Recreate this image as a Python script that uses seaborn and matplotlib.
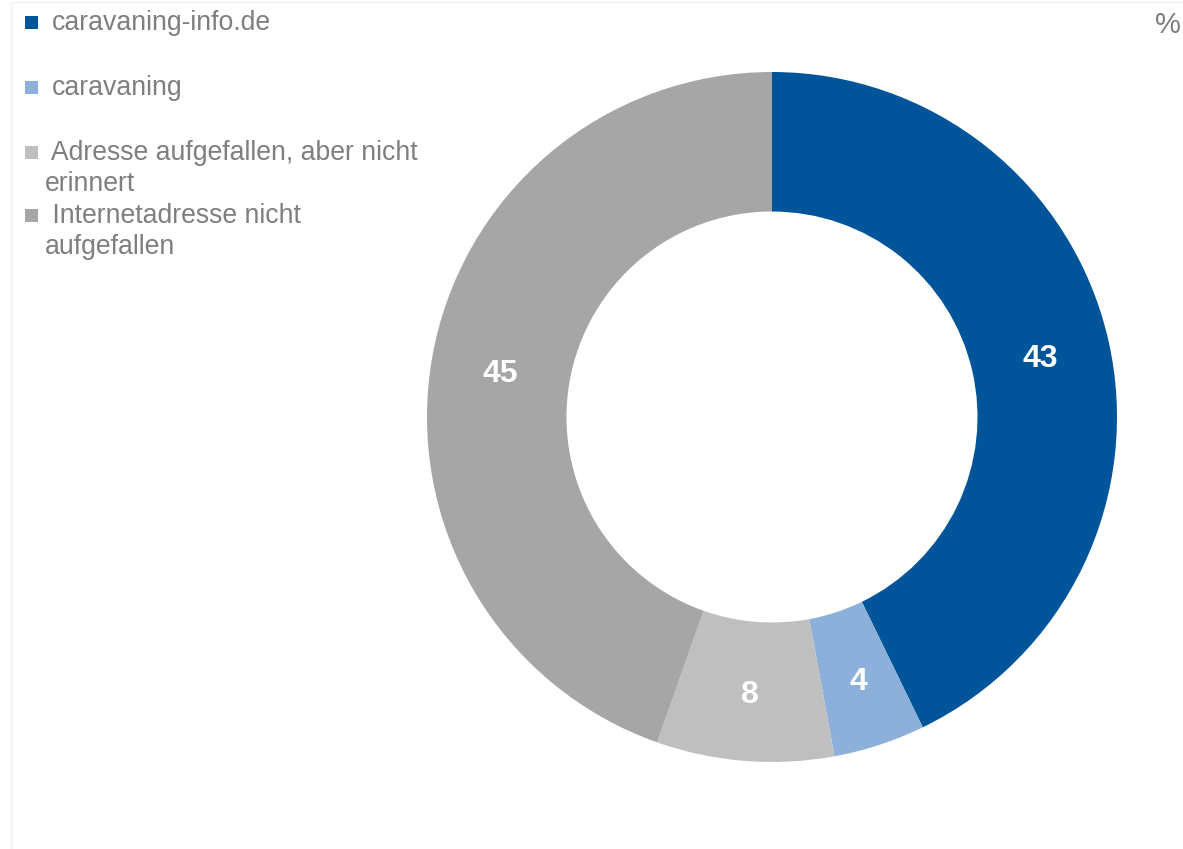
import matplotlib.pyplot as plt
import seaborn as sns
from matplotlib.patches import Rectangle

# --- Data ---
categories = ["caravaning-info.de", "caravaning",
              "Adresse aufgefallen, aber nicht erinnert",
              "Internetadresse nicht aufgefallen"]
values = [42.8, 4.3, 8.3, 44.6]
legend_lines = [["caravaning-info.de"], ["caravaning"],
                [" Adresse aufgefallen, aber nicht", "erinnert"],
                [" Internetadresse nicht", "aufgefallen"]]
colors = ["#00559A", "#8CB0DA", "#BFBFBF", "#A6A6A6"]

sns.set_theme(style="white")
plt.rcParams['font.family'] = ['Liberation Sans', 'DejaVu Sans']

W, H = 1183, 849
fig = plt.figure(figsize=(W / 100, H / 100), dpi=100)
ax = fig.add_axes([0, 0, 1, 1])

# faint frame of the original chart area
ax.add_patch(Rectangle((11, -5), W, H - 2 - (-5), fill=False,
                       edgecolor='#f2f2f2', linewidth=1))

# --- Donut ---
cx, cy, r_out, r_in = 772, H - 417, 345, 205.5
wedges, texts, autotexts = ax.pie(
    values, colors=colors, startangle=90, counterclock=False,
    center=(cx, cy), radius=r_out, frame=True,
    wedgeprops=dict(width=r_out - r_in, linewidth=0),
    autopct=lambda p: f"{round(p)}", pctdistance=(r_out + r_in) / 2 / r_out,
    textprops=dict(color='white', fontsize=23, fontweight='bold'))
for t in autotexts:
    t.set_va('center_baseline')
ax.set_xlim(0, W)
ax.set_ylim(0, H)
ax.set_aspect('equal')
ax.axis('off')

# --- Legend (manual, matching the wrapped layout) ---
text_color = '#7F7F7F'
rows_y = [23, 88, 153, 216]
for lines, col, y in zip(legend_lines, colors, rows_y):
    ax.add_patch(Rectangle((25, H - y - 6), 13, 13, color=col, linewidth=0))
    ax.text(52 if len(lines) == 1 else 45, H - y, lines[0], color=text_color,
            fontsize=19.2, va='center', ha='left')
    if len(lines) > 1:
        ax.text(45, H - y - 31, lines[1], color=text_color,
                fontsize=19.2, va='center', ha='left')

ax.text(1181, H - 25, "%", color=text_color, fontsize=21,
        va='center', ha='right')

fig.savefig("out.png", dpi=100)
